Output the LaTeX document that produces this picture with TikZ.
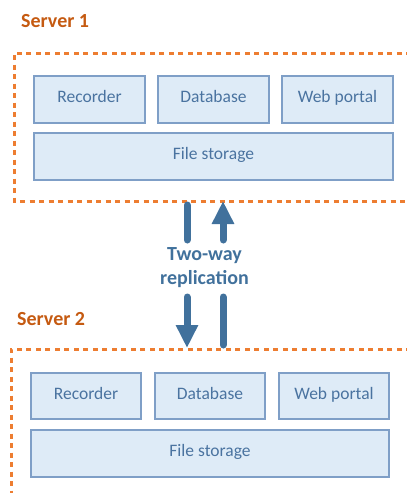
\documentclass[tikz,border=0pt]{standalone}
\usepackage{fontspec}
\setmainfont{Carlito}
\usetikzlibrary{arrows.meta}
\definecolor{dashorange}{HTML}{ED7D31}
\definecolor{labelorange}{HTML}{C55A11}
\definecolor{boxfill}{HTML}{DEEBF7}
\definecolor{boxline}{HTML}{7F9FC7}
\definecolor{boxtext}{HTML}{4A73A0}
\definecolor{arrowblue}{HTML}{41719C}
\tikzset{
  comp/.style={draw=boxline, line width=1.3pt, fill=boxfill, text=boxtext,
    font=\fontsize{17.5}{20}\selectfont, inner sep=0pt, text height=0.7em, text depth=0.08em},
  serverlabel/.style={text=labelorange, font=\fontsize{20}{24}\selectfont\bfseries, inner sep=0pt, anchor=base west},
  serverbox/.style={draw=dashorange, line width=3pt, dash pattern=on 5pt off 4.5pt},
  repl/.style={draw=arrowblue, line width=7pt, line cap=round},
  repltip/.style={-{Triangle[width=21pt,length=23pt]}}
}
\begin{document}
\begin{tikzpicture}[x=1pt,y=-1pt]
\useasboundingbox (0,0) rectangle (407,493);
\begin{scope}
\clip (0,0) rectangle (407,493);
% server 1
\draw[serverbox] (430,53) -- (14,53) -- (14,201) -- (430,201);
% server 2
\draw[serverbox] (430,349) -- (11,349) -- (11,520);
\end{scope}

\node[serverlabel] (s1label) at (21,27) {Server 1};
\node[serverlabel] (s2label) at (17,325) {Server 2};

% server 1 components
\node[comp, minimum width=111pt, minimum height=47pt] (rec1) at (89.5,99.5) {Recorder};
\node[comp, minimum width=111pt, minimum height=47pt] (db1) at (213.5,99.5) {Database};
\node[comp, minimum width=111pt, minimum height=47pt] (web1) at (337.5,99.5) {Web portal};
\node[comp, minimum width=359pt, minimum height=47pt] (fs1) at (213.5,156.5) {File storage};

% server 2 components
\node[comp, minimum width=110pt, minimum height=46pt] (rec2) at (86,396) {Recorder};
\node[comp, minimum width=110pt, minimum height=46pt] (db2) at (210,396) {Database};
\node[comp, minimum width=110pt, minimum height=46pt] (web2) at (334,396) {Web portal};
\node[comp, minimum width=358pt, minimum height=47pt] (fs2) at (210,453.5) {File storage};

% replication
\node[text=arrowblue, font=\fontsize{20}{24}\selectfont\bfseries, align=center, inner sep=0pt] (repl) at (204.5,268) {Two-way\\replication};

\coordinate (dnA) at (187,205);
\coordinate (dnB) at (187,240);
\coordinate (dnC) at (187,297);
\coordinate (dnD) at (187,348);
\coordinate (upA) at (223,345);
\coordinate (upB) at (223,297);
\coordinate (upC) at (223,240);
\coordinate (upD) at (223,201);

\draw[repl] (dnA) -- (dnB);
\draw[repl, repltip] (dnC) -- (dnD);
\draw[repl] (upA) -- (upB);
\draw[repl, repltip] (upC) -- (upD);
\end{tikzpicture}
\end{document}
